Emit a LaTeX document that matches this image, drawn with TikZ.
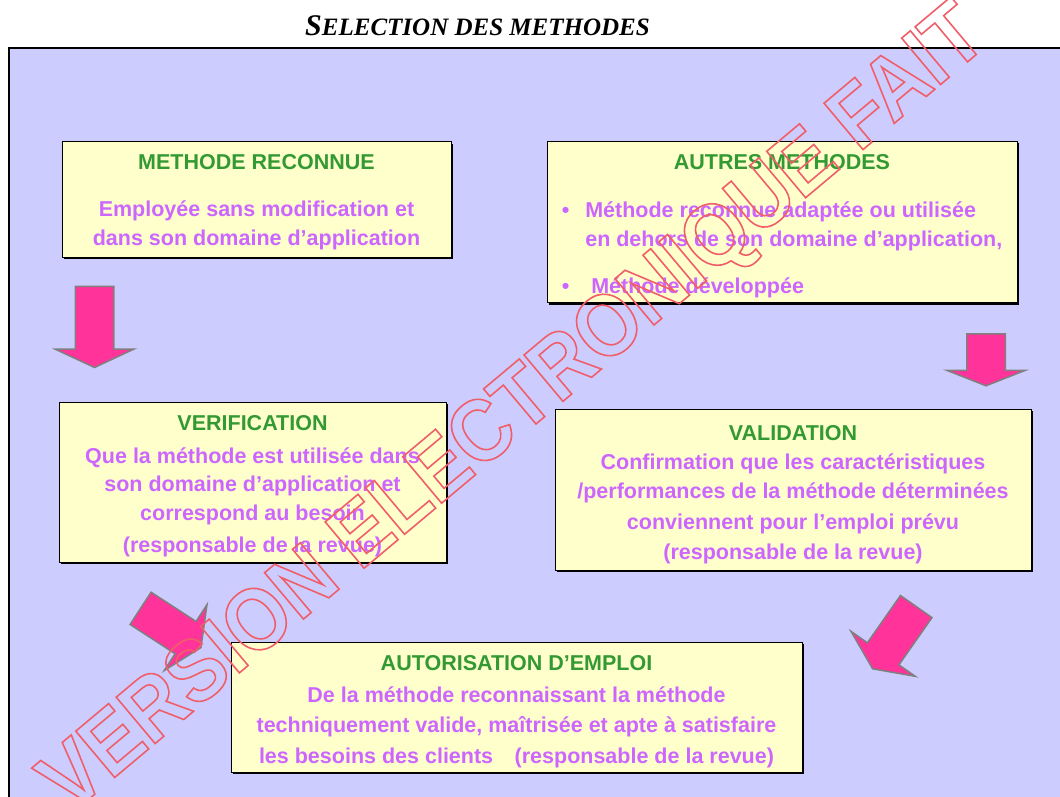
\documentclass[tikz,border=0pt]{standalone}
\usepackage{fontspec}
\setmainfont{Liberation Sans}
\newfontfamily\headfont{Liberation Serif}
\newfontfamily\wmfont{Liberation Sans}[FakeStretch=0.9]
\usepackage{tikz}
\usetikzlibrary{shapes.arrows, shadows}

\definecolor{bglavender}{RGB}{204,204,255}
\definecolor{boxyellow}{RGB}{255,255,204}
\definecolor{titlegreen}{RGB}{51,153,51}
\definecolor{bodyviolet}{RGB}{204,102,255}
\definecolor{arrowpink}{RGB}{255,51,153}
\definecolor{arrowgray}{RGB}{128,128,128}
\definecolor{wmred}{RGB}{240,95,105}

\newcommand{\boxhead}[2][15pt]{\rule{0pt}{#1}\textcolor{titlegreen}{#2}}

\begin{document}
\begin{tikzpicture}[
  x=1pt, y=-1pt,
  box/.style      = {draw=black, line width=1pt, fill=boxyellow,
                     drop shadow={shadow xshift=2pt, shadow yshift=-2pt, fill=black, opacity=1},
                     text=bodyviolet, align=center, inner sep=0pt,
                     font=\bfseries\fontsize{21.5}{28.5}\selectfont},
  bigarrow/.style = {single arrow, draw=arrowgray, fill=arrowpink, line width=1.5pt,
                     inner xsep=0pt, inner ysep=18.5pt, single arrow head extend=20pt,
                     single arrow tip angle=130},
  wmark/.style    = {text=wmred, inner sep=0pt, font=\wmfont\bfseries\fontsize{88}{88}\selectfont},
]
  \useasboundingbox (0,0) rectangle (1060,797);

%--- frame and heading ---
  \draw[line width=2.4pt, fill=bglavender] (8.7,48) rectangle (1080,815);
  \node[anchor=base, inner sep=0pt, font=\headfont\bfseries\itshape] (heading) at (477.5,36)
    {\fontsize{30}{30}\selectfont S\fontsize{25}{25}\selectfont ELECTION DES METHODES};

%--- boxes ---
  \node[box, minimum width=389pt, minimum height=115pt] (reconnue) at (256.5,199.5)
    {\boxhead[20.5pt]{METHODE RECONNUE}\\[18.5pt]
     Employée sans modification et\\
     dans son domaine d’application};

  \node[box, minimum width=470pt, minimum height=160pt] (autres) at (782,222)
    {\boxhead[28.5pt]{AUTRES METHODES}\\[19.5pt]
     \begin{tabular}[t]{@{}l@{\hspace{16pt}}l@{}}
       \textbullet & Méthode reconnue adaptée ou utilisée\\
                   & en dehors de son domaine d’application,\\[19pt]
       \textbullet & \hspace{6pt}Méthode développée
     \end{tabular}};

  \node[box, minimum width=387pt, minimum height=160pt] (verif) at (252.5,482)
    {\boxhead[22.5pt]{VERIFICATION}\\[4.5pt]
     Que la méthode est utilisée dans\\
     son domaine d’application et\\
     correspond au besoin\\[3.5pt]
     (responsable de la revue)};

  \node[box, minimum width=476pt, minimum height=161pt] (valid) at (793,489.5)
    {\boxhead[24.5pt]{VALIDATION}\\[0.5pt]
     Confirmation que les caractéristiques\\[0.5pt]
     /performances de la méthode déterminées\\[2.5pt]
     conviennent pour l’emploi prévu\\[1.5pt]
     (responsable de la revue)};

  \node[box, minimum width=571pt, minimum height=130pt] (autoris) at (516.5,707)
    {\boxhead[24.5pt]{AUTORISATION D’EMPLOI}\\[3.5pt]
     De la méthode reconnaissant la méthode\\[1.5pt]
     techniquement valide, maîtrisée et apte à satisfaire\\[2.5pt]
     les besoins des clients\hspace{1em}(responsable de la revue)};

%--- block arrows ---
  \node[bigarrow, minimum height=81pt, rotate=-90] (arrreconnue) at (94.5,322.5) {};
  \node[bigarrow, minimum height=52pt, rotate=-90, single arrow tip angle=137] (arrautres) at (986,356) {};
  \node[bigarrow, minimum height=72pt, rotate=-33] (arrverif) at (167,625.5) {};
  \node[bigarrow, minimum height=76pt, rotate=-125] (arrvalid) at (897,634) {};

%--- watermark ---
  \node[wmark, rotate=40, anchor=base west] (wm) at (70,815)
    {\special{pdf:literal direct 1 Tr 1.6 w}VERSION ELECTRONIQUE FAIT\special{pdf:literal direct 0 Tr}};
\end{tikzpicture}
\end{document}
